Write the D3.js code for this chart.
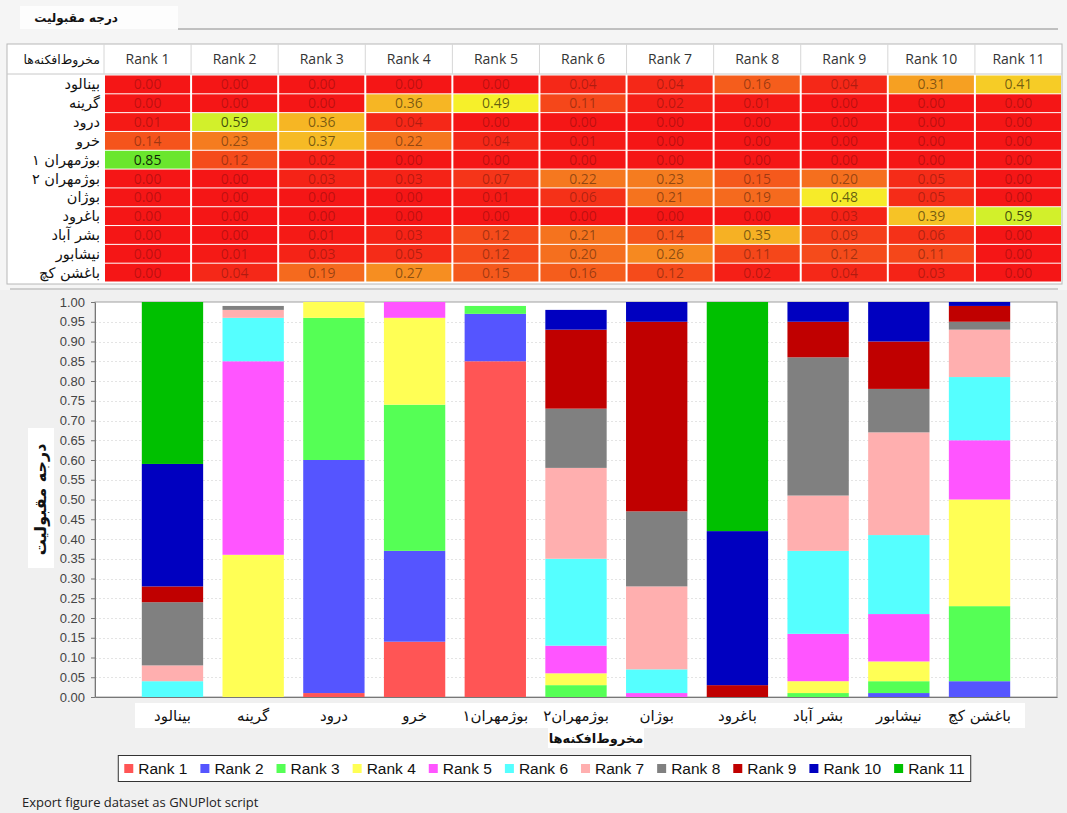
<!DOCTYPE html>
<html>
<head>
<meta charset="utf-8">
<script src="https://cdn.jsdelivr.net/npm/d3@7"></script>
<style>
  html, body { margin: 0; padding: 0; background: #f0f0f0; }
  svg { display: block; }
</style>
</head>
<body>
<svg id="chart" width="1067" height="813"></svg>
<script>
// Alluvial fans (rows of the table / categories of the bar chart)
const sites = ["بینالود", "گرینه", "درود", "خرو", "بوژمهران ۱", "بوژمهران ۲", "بوژان", "باغرود", "بشر آباد", "نیشابور", "باغشن کچ"];
const siteAxisLabels = ["بینالود", "گرینه", "درود", "خرو", "بوژمهران۱", "بوژمهران۲", "بوژان", "باغرود", "بشر آباد", "نیشابور", "باغشن کچ"];
const ranks = ["Rank 1", "Rank 2", "Rank 3", "Rank 4", "Rank 5", "Rank 6", "Rank 7", "Rank 8", "Rank 9", "Rank 10", "Rank 11"];

// Acceptability degree of each fan for each rank (one array per rank, in site order)
const rank1  = [0.00, 0.00, 0.01, 0.14, 0.85, 0.00, 0.00, 0.00, 0.00, 0.00, 0.00];
const rank2  = [0.00, 0.00, 0.59, 0.23, 0.12, 0.00, 0.00, 0.00, 0.00, 0.01, 0.04];
const rank3  = [0.00, 0.00, 0.36, 0.37, 0.02, 0.03, 0.00, 0.00, 0.01, 0.03, 0.19];
const rank4  = [0.00, 0.36, 0.04, 0.22, 0.00, 0.03, 0.00, 0.00, 0.03, 0.05, 0.27];
const rank5  = [0.00, 0.49, 0.00, 0.04, 0.00, 0.07, 0.01, 0.00, 0.12, 0.12, 0.15];
const rank6  = [0.04, 0.11, 0.00, 0.01, 0.00, 0.22, 0.06, 0.00, 0.21, 0.20, 0.16];
const rank7  = [0.04, 0.02, 0.00, 0.00, 0.00, 0.23, 0.21, 0.00, 0.14, 0.26, 0.12];
const rank8  = [0.16, 0.01, 0.00, 0.00, 0.00, 0.15, 0.19, 0.00, 0.35, 0.11, 0.02];
const rank9  = [0.04, 0.00, 0.00, 0.00, 0.00, 0.20, 0.48, 0.03, 0.09, 0.12, 0.04];
const rank10 = [0.31, 0.00, 0.00, 0.00, 0.00, 0.05, 0.05, 0.39, 0.06, 0.11, 0.03];
const rank11 = [0.41, 0.00, 0.00, 0.00, 0.00, 0.00, 0.00, 0.59, 0.00, 0.00, 0.00];

const yTicks = [0.00, 0.05, 0.10, 0.15, 0.20, 0.25, 0.30, 0.35, 0.40, 0.45, 0.50,
                0.55, 0.60, 0.65, 0.70, 0.75, 0.80, 0.85, 0.90, 0.95, 1.00];

const panelTitle = "درجه مقبولیت";
const axisTitleX = "مخروط‌افکنه‌ها";
const axisTitleY = "درجه مقبولیت";
const footerText = "Export figure dataset as GNUPlot script";

// Series palette
const rankColors = ["#ff5555", "#5555ff", "#55ff55", "#ffff55", "#ff55ff", "#55ffff",
                    "#ffafaf", "#808080", "#c00000", "#0000c0", "#00c000"];

const rankValues = [rank1, rank2, rank3, rank4, rank5, rank6, rank7, rank8, rank9, rank10, rank11];
const rows = sites.map((s, i) => {
  const r = { site: s, label: siteAxisLabels[i] };
  ranks.forEach((rk, j) => { r[rk] = rankValues[j][i]; });
  return r;
});

const svg = d3.select("#chart");
const W = 1067, H = 813;
const persianFont = "'DejaVu Sans', sans-serif";
const latinFont = "'Open Sans', 'Liberation Sans', sans-serif";

svg.append("rect").attr("width", W).attr("height", H).attr("fill", "#f0f0f0");
svg.append("rect").attr("width", W).attr("height", 290).attr("fill", "#f5f5f5");

// ---------- Panel title ----------
svg.append("rect").attr("x", 20).attr("y", 6).attr("width", 158).attr("height", 23)
  .attr("fill", "#fdfdfd");
svg.append("line").attr("x1", 178).attr("x2", 1058).attr("y1", 29).attr("y2", 29)
  .attr("stroke", "#8a8a8a").attr("stroke-width", 1);
svg.append("text").attr("x", 118).attr("y", 22).attr("text-anchor", "end")
  .attr("font-family", persianFont).attr("font-size", 12).attr("font-weight", "bold")
  .attr("fill", "#111").text(panelTitle);

// ---------- Heat-map table ----------
const tableLeft = 7, tableRight = 1062, tableTop = 44, headerBottom = 74, tableBottom = 282;
const colX = d3.scaleBand().domain(ranks).range([104, tableRight]);
const rowY = d3.scaleBand().domain(sites).range([headerBottom + 1, tableBottom]);
const heat = d3.scaleLinear().domain([0, 0.5, 1])
  .range(["#f51616", "#f6f42a", "#2ee02e"]).clamp(true);

const table = svg.append("g");
table.append("rect").attr("x", tableLeft).attr("y", tableTop)
  .attr("width", tableRight - tableLeft).attr("height", tableBottom - tableTop + 2)
  .attr("fill", "#ffffff").attr("stroke", "#b8b8b8");
table.append("line").attr("x1", tableLeft).attr("x2", tableRight)
  .attr("y1", headerBottom).attr("y2", headerBottom).attr("stroke", "#c8c8c8");

// header cells
table.selectAll(".hdr-sep").data(ranks).join("line")
  .attr("x1", d => colX(d)).attr("x2", d => colX(d))
  .attr("y1", tableTop).attr("y2", headerBottom).attr("stroke", "#d6d6d6");
table.selectAll(".hdr").data(ranks).join("text")
  .attr("x", d => colX(d) + colX.bandwidth() / 2).attr("y", 64)
  .attr("text-anchor", "middle").attr("font-family", latinFont).attr("font-size", 14)
  .attr("fill", "#333").text(d => d);
table.append("text").attr("x", 100).attr("y", 64).attr("text-anchor", "end")
  .attr("font-family", persianFont).attr("font-size", 12.5).attr("fill", "#111")
  .text(axisTitleX);

// row labels
table.selectAll(".rowlab").data(sites).join("text")
  .attr("x", 100).attr("y", d => rowY(d) + rowY.bandwidth() / 2 + 5)
  .attr("text-anchor", "end").attr("font-family", persianFont).attr("font-size", 14.5)
  .attr("fill", "#111").text(d => d);

// value cells
const cells = [];
rows.forEach(r => ranks.forEach(rk => cells.push({ site: r.site, rank: rk, v: r[rk] })));
table.selectAll(".cell").data(cells).join("rect")
  .attr("x", d => colX(d.rank) + 1).attr("y", d => rowY(d.site) + 0.5)
  .attr("width", colX.bandwidth() - 2).attr("height", rowY.bandwidth() - 1)
  .attr("fill", d => heat(d.v));
table.selectAll(".cellval").data(cells).join("text")
  .attr("x", d => colX(d.rank) + colX.bandwidth() / 2)
  .attr("y", d => rowY(d.site) + rowY.bandwidth() / 2 + 5)
  .attr("text-anchor", "middle").attr("font-family", latinFont).attr("font-size", 14)
  .attr("fill", "#000").attr("fill-opacity", d => Math.min(0.85, 0.25 + 0.75 * d.v))
  .text(d => d.v.toFixed(2));

svg.append("line").attr("x1", 10).attr("x2", 1058).attr("y1", 289).attr("y2", 289)
  .attr("stroke", "#a8a8a8");

// ---------- Stacked bar chart ----------
const plot = { left: 95, right: 1057, top: 302, bottom: 697 };
const x = d3.scaleBand().domain(siteAxisLabels).range([plot.left, plot.right])
  .paddingInner(0.24).paddingOuter(0.58);
const y = d3.scaleLinear().domain([0, 1]).range([plot.bottom, plot.top]);

svg.append("rect").attr("x", plot.left).attr("y", plot.top)
  .attr("width", plot.right - plot.left).attr("height", plot.bottom - plot.top)
  .attr("fill", "#ffffff").attr("stroke", "#a0a0a0");

// faint grid
svg.append("g").selectAll("line").data(yTicks.slice(1, -1)).join("line")
  .attr("x1", plot.left).attr("x2", plot.right)
  .attr("y1", d => Math.round(y(d)) + 0.5).attr("y2", d => Math.round(y(d)) + 0.5)
  .attr("stroke", "#e4e4e4").attr("stroke-dasharray", "2,2");

svg.append("clipPath").attr("id", "plot-clip").append("rect")
  .attr("x", plot.left).attr("y", plot.top)
  .attr("width", plot.right - plot.left).attr("height", plot.bottom - plot.top);

const stacked = d3.stack().keys(ranks)(rows);
const bars = svg.append("g").attr("clip-path", "url(#plot-clip)");
bars.selectAll("g").data(stacked).join("g")
  .attr("fill", (d, i) => rankColors[i])
  .selectAll("rect").data(d => d).join("rect")
  .attr("x", d => x(d.data.label))
  .attr("y", d => y(d[1]))
  .attr("width", x.bandwidth())
  .attr("height", d => Math.max(0, y(d[0]) - y(d[1])));

// y axis
const yAxis = svg.append("g").attr("transform", `translate(${plot.left},0)`)
  .call(d3.axisLeft(y).tickValues(yTicks).tickFormat(d3.format(".2f"))
    .tickSizeInner(4).tickSizeOuter(0).tickPadding(6));
yAxis.select(".domain").attr("stroke", "#777");
yAxis.selectAll(".tick line").attr("stroke", "#777");
yAxis.selectAll(".tick text").attr("font-family", "'Liberation Sans', Arial, sans-serif")
  .attr("font-size", 13).attr("fill", "#444");

// x axis labels with a white band behind them
svg.append("rect").attr("x", 135).attr("y", 703).attr("width", 890).attr("height", 25)
  .attr("fill", "#ffffff");
const xAxis = svg.append("g").attr("transform", `translate(0,${plot.bottom})`)
  .call(d3.axisBottom(x).tickSize(0).tickPadding(13));
xAxis.select(".domain").attr("stroke", "#777");
xAxis.selectAll(".tick text").attr("font-family", persianFont).attr("font-size", 15)
  .attr("fill", "#111");

// axis titles
svg.append("rect").attr("x", 548).attr("y", 727).attr("width", 96).attr("height", 21)
  .attr("fill", "#ffffff");
svg.append("text").attr("x", 596).attr("y", 743).attr("text-anchor", "middle")
  .attr("font-family", persianFont).attr("font-size", 13).attr("font-weight", "bold")
  .attr("fill", "#111").text(axisTitleX);
svg.append("rect").attr("x", 28).attr("y", 428).attr("width", 26).attr("height", 140)
  .attr("fill", "#ffffff");
svg.append("text").attr("transform", `translate(46,${(plot.top + plot.bottom) / 2}) rotate(-90)`)
  .attr("text-anchor", "middle").attr("font-family", persianFont).attr("font-size", 16)
  .attr("font-weight", "bold").attr("fill", "#111").text(axisTitleY);

// ---------- Legend ----------
const legend = svg.append("g");
const legendBox = legend.append("rect").attr("fill", "#ffffff").attr("stroke", "#333");
const items = legend.selectAll("g").data(ranks).join("g");
items.append("rect").attr("width", 9).attr("height", 9).attr("y", -10)
  .attr("fill", (d, i) => rankColors[i]);
items.append("text").attr("x", 14).attr("y", 0)
  .attr("font-family", "'Liberation Sans', Arial, sans-serif").attr("font-size", 15.5)
  .attr("fill", "#111").text(d => d);
const gap = 13;
let cursor = 0;
const positions = [];
items.each(function () {
  positions.push(cursor);
  const w = 14 + d3.select(this).select("text").node().getComputedTextLength();
  cursor += w + gap;
});
const legendWidth = cursor - gap;
const legendCenter = 544.5;
const lx0 = legendCenter - legendWidth / 2;
items.attr("transform", (d, i) => `translate(${lx0 + positions[i]},774)`);
legendBox.attr("x", lx0 - 6).attr("y", 755.5).attr("width", legendWidth + 12).attr("height", 26);

// ---------- Footer ----------
svg.append("text").attr("x", 22).attr("y", 807)
  .attr("font-family", latinFont).attr("font-size", 13).attr("fill", "#222")
  .text(footerText);
</script>
</body>
</html>
